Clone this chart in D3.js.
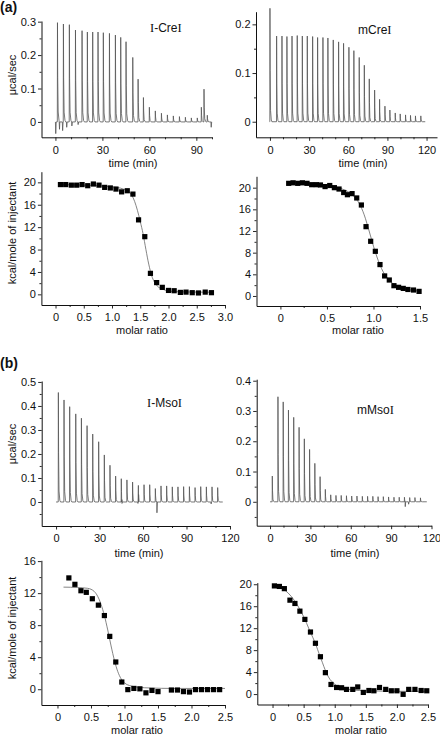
<!DOCTYPE html>
<html><head><meta charset="utf-8">
<script src="https://cdn.jsdelivr.net/npm/d3@7"></script>
<style>
body{margin:0;background:#fff}
svg{display:block}
text{font-family:"Liberation Sans",Arial,sans-serif;fill:#111}
</style>
</head><body><svg id="c" width="440" height="737"></svg>
<script>
// ---------- DATA ----------
// (a) I-CreI raw ITC trace
const creiRawTimes = [1.3,5.1,8.9,12.8,17.0,20.4,23.8,27.2,30.6,34.5,38.3,41.7,45.1,49.4,52.8,56.2,60.0,63.8,67.7,71.5,75.3,79.2,83.0,86.8,90.6,93.2,94.9,97.0];
const creiRawPeaks = [0.297,0.293,0.291,0.275,0.273,0.269,0.269,0.269,0.267,0.265,0.260,0.253,0.240,0.193,0.128,0.073,0.044,0.033,0.026,0.021,0.018,0.016,0.014,0.012,0.012,0.044,0.098,0.020];
const creiRawDipTimes = [0.2,2.6,4.6,7.2,10.5,14.5,99.5];
const creiRawDipValues = [-0.035,-0.022,-0.026,-0.016,-0.012,-0.008,-0.016];
// (a) mCreI raw ITC trace
const mcreiRawTimes = [0.0,5.1,9.2,13.0,16.9,20.9,24.8,28.6,32.7,36.5,40.6,44.4,48.5,52.6,56.4,60.5,64.3,68.4,72.3,76.1,80.2,84.0,88.1,91.9,96.0,99.8,103.9,107.7,111.5,115.6];
const mcreiRawPeaks = [0.233,0.176,0.176,0.175,0.176,0.177,0.176,0.176,0.175,0.173,0.173,0.172,0.168,0.164,0.161,0.153,0.146,0.132,0.116,0.088,0.065,0.046,0.032,0.024,0.018,0.016,0.014,0.013,0.012,0.012];
const mcreiRawDipTimes = [];
const mcreiRawDipValues = [];
// (a) I-CreI isotherm
const creiRatio = [0.087,0.18,0.28,0.375,0.47,0.57,0.67,0.77,0.87,0.97,1.07,1.17,1.27,1.37,1.47,1.58,1.68,1.79,1.89,2.0,2.1,2.21,2.31,2.42,2.53,2.65,2.76];
const creiHeat = [19.6,19.6,19.5,19.5,19.6,19.4,19.7,19.5,19.1,19.0,18.8,18.3,18.5,17.9,13.3,10.3,3.75,2.1,1.25,0.7,0.65,0.35,0.4,0.3,0.25,0.4,0.3];
const creiFitX = [0.09,0.5,1.0,1.2,1.3,1.35,1.4,1.45,1.5,1.55,1.6,1.65,1.7,1.75,1.8,1.9,2.0,2.2,2.5,2.78];
const creiFitY = [19.6,19.5,19.2,18.8,18.3,17.7,16.6,15.0,13.0,10.8,8.0,5.4,3.4,2.2,1.5,0.9,0.6,0.45,0.4,0.38];
// (a) mCreI isotherm
const mcreiRatio = [0.089,0.136,0.186,0.236,0.286,0.336,0.386,0.43,0.48,0.53,0.58,0.63,0.68,0.72,0.77,0.82,0.87,0.92,0.97,1.02,1.07,1.12,1.17,1.22,1.27,1.32,1.37,1.43,1.49];
const mcreiHeat = [20.8,20.9,20.8,20.9,20.8,20.55,20.55,20.5,20.2,20.4,20.0,19.75,19.1,18.7,18.9,18.1,16.8,12.8,10.1,8.25,5.8,3.7,2.95,1.9,1.6,1.4,1.2,1.1,0.85];
const mcreiFitX = [0.09,0.3,0.5,0.6,0.7,0.75,0.8,0.85,0.9,0.95,1.0,1.05,1.1,1.15,1.2,1.3,1.4,1.49];
const mcreiFitY = [20.9,20.8,20.5,20.1,19.5,19.0,18.2,17.0,15.0,12.2,9.2,6.6,4.6,3.3,2.4,1.5,1.1,0.9];
// (b) I-MsoI raw ITC trace
const msoiRawTimes = [1.6,5.5,9.4,13.6,17.5,21.4,25.3,29.4,33.3,37.2,41.1,45.0,48.9,52.8,56.8,60.7,64.6,68.5,72.4,76.3,80.2,84.1,88.0,92.0,95.9,99.8,103.7,107.6,111.5];
const msoiRawPeaks = [0.456,0.425,0.397,0.367,0.349,0.318,0.283,0.251,0.196,0.153,0.108,0.097,0.092,0.083,0.069,0.072,0.072,0.056,0.067,0.067,0.063,0.063,0.064,0.064,0.060,0.064,0.063,0.063,0.060];
const msoiRawDipTimes = [45.5,56.5,69.6,107.0];
const msoiRawDipValues = [-0.006,-0.006,-0.045,-0.008];
// (b) mMsoI raw ITC trace
const mmsoiRawTimes = [1.7,5.9,9.8,13.7,17.6,21.6,25.5,29.4,33.3,37.2,41.1,45.1,49.0,52.9,56.8,60.7,64.6,68.6,72.5,76.4,80.3,84.2,88.1,92.1,96.0,99.9,103.8,107.7,111.8];
const mmsoiRawPeaks = [0.085,0.347,0.330,0.303,0.279,0.246,0.208,0.173,0.127,0.083,0.041,0.023,0.021,0.021,0.020,0.019,0.019,0.018,0.018,0.018,0.017,0.017,0.016,0.015,0.015,0.015,0.014,0.014,0.013];
const mmsoiRawDipTimes = [100.5,103.0];
const mmsoiRawDipValues = [-0.016,-0.008];
// (b) I-MsoI isotherm
const msoiRatio = [0.17,0.26,0.35,0.43,0.52,0.61,0.70,0.78,0.87,0.96,1.05,1.14,1.23,1.32,1.41,1.50,1.70,1.79,1.88,1.97,2.06,2.15,2.24,2.33,2.42];
const msoiHeat = [13.9,13.1,12.3,12.1,11.3,10.5,9.2,6.6,3.4,0.9,-0.05,0.1,0.05,-0.45,-0.15,-0.3,-0.1,-0.1,-0.3,-0.35,-0.05,-0.05,-0.05,-0.05,-0.05];
const msoiFitX = [0.09,0.3,0.45,0.55,0.6,0.65,0.7,0.75,0.8,0.85,0.9,0.95,1.0,1.1,1.2,1.4,1.7,2.0,2.5];
const msoiFitY = [12.75,12.7,12.6,12.2,11.6,10.6,9.2,7.4,5.4,3.6,2.2,1.3,0.8,0.4,0.25,0.15,0.1,0.1,0.1];
// (b) mMsoI isotherm
const mmsoiRatio = [0.03,0.11,0.19,0.28,0.36,0.44,0.52,0.61,0.69,0.77,0.85,0.94,1.03,1.11,1.19,1.29,1.37,1.46,1.55,1.63,1.72,1.82,1.91,2.0,2.1,2.19,2.29,2.39,2.48];
const mmsoiHeat = [19.7,19.6,19.2,17.1,16.5,15.1,13.6,11.3,9.25,6.8,3.9,1.75,1.2,1.15,0.85,0.85,1.3,0.3,0.65,0.6,1.2,0.85,0.6,0.6,-0.05,0.85,0.85,0.65,0.6];
const mmsoiFitX = [0.02,0.1,0.2,0.3,0.4,0.5,0.6,0.7,0.75,0.8,0.85,0.9,1.0,1.1,1.2,1.4,1.7,2.0,2.48];
const mmsoiFitY = [19.7,19.5,18.9,17.8,16.2,14.1,11.5,8.9,7.3,5.8,4.3,3.1,1.8,1.2,0.9,0.65,0.55,0.5,0.5];

// tick labels
const timeTicksA1 = [0,30,60,90];
const timeTicks = [0,30,60,90,120];
const ratioTicks3 = [0,0.5,1.0,1.5,2.0,2.5,3.0];
const ratioTicks15 = [0,0.5,1.0,1.5];
const ratioTicks25 = [0,0.5,1.0,1.5,2.0,2.5];
const heatTicks20 = [0,4,8,12,16,20];
const heatTicks16 = [0,4,8,12,16];

// ---------- DRAW ----------
const svg = d3.select("#c");
const fmtRatio = d => d === 0 ? "0" : d3.format(".1f")(d);
const fmtPlain = d => String(d);

function axes(g, x, y, o) {
  const xa = g.append("g").attr("transform", `translate(0,${y.range()[0]})`)
    .call(d3.axisBottom(x).tickValues(o.xMinor).tickSize(2).tickFormat("").tickSizeOuter(0));
  xa.selectAll("text").remove();
  const xb = g.append("g").attr("transform", `translate(0,${y.range()[0]})`)
    .call(d3.axisBottom(x).tickValues(o.xTicks).tickSize(3.5).tickPadding(5).tickFormat(o.xFmt).tickSizeOuter(0));
  xb.select(".domain").remove();
  const ya = g.append("g").attr("transform", `translate(${x.range()[0]},0)`)
    .call(d3.axisLeft(y).tickValues(o.yMinor).tickSize(2).tickFormat("").tickSizeOuter(0));
  const yb = g.append("g").attr("transform", `translate(${x.range()[0]},0)`)
    .call(d3.axisLeft(y).tickValues(o.yTicks).tickSize(3.5).tickPadding(2).tickFormat(o.yFmt).tickSizeOuter(0));
  yb.select(".domain").remove();
  g.selectAll(".domain").attr("stroke", "#111").attr("stroke-width", 1);
  g.selectAll(".tick line").attr("stroke", "#111").attr("stroke-width", 0.9);
  g.selectAll(".tick text").attr("font-size", 11).attr("font-family", '"Liberation Sans",Arial,sans-serif').attr("fill", "#111");
  if (o.xLabel) g.append("text").attr("x", o.xLabel[0]).attr("y", o.xLabel[1]).attr("text-anchor", "middle").attr("font-size", 11).text(o.xLabel[2]);
  if (o.yLabel) g.append("text").attr("transform", `translate(${o.yLabel[0]},${o.yLabel[1]}) rotate(-90)`).attr("dy", "0.35em").attr("text-anchor", "middle").attr("font-size", 11).text(o.yLabel[2]);
}

function title(g, x, y, str) {
  const t = g.append("text").attr("x", x).attr("y", y).attr("font-size", 12);
  str.split(/(I)/).filter(s => s.length).forEach(s => {
    const ts = t.append("tspan").text(s);
    if (s === "I") ts.attr("font-family", '"Liberation Serif","Times New Roman",serif').attr("font-size", 12.5);
  });
}

function rawTrace(g, x, y, times, peaks, dipT, dipV, tStart, tEnd) {
  const pts = [[tStart, 0]];
  times.forEach((t, i) => {
    const p = peaks[i];
    pts.push([t - 0.1, 0], [t, p], [t + 0.15, p * 0.45], [t + 0.45, p * 0.1], [t + 1.0, p * 0.015], [t + 1.5, 0]);
  });
  dipT.forEach((t, i) => pts.push([t - 0.2, 0.0], [t, dipV[i]], [t + 0.3, 0.0]));
  pts.push([tEnd, 0]);
  pts.sort((a, b) => a[0] - b[0]);
  g.append("path").attr("d", d3.line().x(d => x(d[0])).y(d => y(d[1]))(pts))
    .attr("fill", "none").attr("stroke", "#555").attr("stroke-width", 0.8).attr("stroke-linejoin", "round");
}

function isotherm(g, x, y, rx, hy, fx, fy) {
  const fit = fx.map((v, i) => [v, fy[i]]);
  g.append("path").attr("d", d3.line().curve(d3.curveMonotoneX).x(d => x(d[0])).y(d => y(d[1]))(fit))
    .attr("fill", "none").attr("stroke", "#666").attr("stroke-width", 0.8);
  g.selectAll(".pt").data(rx.map((v, i) => [v, hy[i]])).join("rect")
    .attr("x", d => x(d[0]) - 2.6).attr("y", d => y(d[1]) - 2.6)
    .attr("width", 5.2).attr("height", 5.2).attr("fill", "#000");
}

// Panel letters
svg.append("text").attr("x", 0).attr("y", 12).attr("font-size", 14).attr("font-weight", "bold").text("(a)");
svg.append("text").attr("x", 0).attr("y", 368).attr("font-size", 14).attr("font-weight", "bold").text("(b)");

// Panel 1: I-CreI raw
{
  const g = svg.append("g");
  const x = d3.scaleLinear().domain([-8.9, 100]).range([41.5, 212]);
  const y = d3.scaleLinear().domain([-0.046, 0.302]).range([137.3, 21]);
  rawTrace(g, x, y, creiRawTimes, creiRawPeaks, creiRawDipTimes, creiRawDipValues, 0, 100);
  axes(g, x, y, {xTicks: timeTicksA1, xMinor: [10,20,40,50,70,80,100], xFmt: fmtPlain,
    yTicks: [0,0.1,0.2,0.3], yMinor: [0.05,0.15,0.25], yFmt: fmtPlain,
    xLabel: [133, 167, "time (min)"], yLabel: [12, 75, "μcal/sec"]});
  title(g, 150, 32, "I-CreI");
}
// Panel 2: mCreI raw
{
  const g = svg.append("g");
  const x = d3.scaleLinear().domain([-10.7, 128]).range([256, 437]);
  const y = d3.scaleLinear().domain([-0.032, 0.226]).range([137.3, 11.7]);
  rawTrace(g, x, y, mcreiRawTimes, mcreiRawPeaks, mcreiRawDipTimes, mcreiRawDipValues, -0.3, 119);
  axes(g, x, y, {xTicks: timeTicks, xMinor: [10,20,40,50,70,80,100,110], xFmt: fmtPlain,
    yTicks: [0,0.1,0.2], yMinor: [0.05,0.15], yFmt: fmtPlain,
    xLabel: [363, 167, "time (min)"]});
  title(g, 358, 34, "mCreI");
}
// Panel 3: I-CreI isotherm
{
  const g = svg.append("g");
  const x = d3.scaleLinear().domain([-0.25, 3.0]).range([41.4, 225]);
  const y = d3.scaleLinear().domain([-1.9, 21.9]).range([305, 171.7]);
  isotherm(g, x, y, creiRatio, creiHeat, creiFitX, creiFitY);
  axes(g, x, y, {xTicks: ratioTicks3, xMinor: [0.25,0.75,1.25,1.75,2.25,2.75], xFmt: fmtRatio,
    yTicks: heatTicks20, yMinor: [2,6,10,14,18], yFmt: fmtPlain,
    xLabel: [142, 334, "molar ratio"], yLabel: [12, 233, "kcal/mole of injectant"]});
}
// Panel 4: mCreI isotherm
{
  const g = svg.append("g");
  const x = d3.scaleLinear().domain([-0.257, 1.5]).range([256.5, 420]);
  const y = d3.scaleLinear().domain([-1.85, 22.1]).range([306, 176.3]);
  isotherm(g, x, y, mcreiRatio, mcreiHeat, mcreiFitX, mcreiFitY);
  axes(g, x, y, {xTicks: ratioTicks15, xMinor: [0.25,0.75,1.25], xFmt: fmtRatio,
    yTicks: heatTicks20, yMinor: [2,6,10,14,18], yFmt: fmtPlain,
    xLabel: [358, 334, "molar ratio"]});
}
// Panel 5: I-MsoI raw
{
  const g = svg.append("g");
  const x = d3.scaleLinear().domain([-9.9, 120]).range([41.7, 230]);
  const y = d3.scaleLinear().domain([-0.1, 0.504]).range([526, 381]);
  rawTrace(g, x, y, msoiRawTimes, msoiRawPeaks, msoiRawDipTimes, msoiRawDipValues, 0, 115);
  axes(g, x, y, {xTicks: timeTicks, xMinor: [10,20,40,50,70,80,100,110], xFmt: fmtPlain,
    yTicks: [0,0.1,0.2,0.3,0.4,0.5], yMinor: [-0.05,0.05,0.15,0.25,0.35,0.45], yFmt: fmtPlain,
    xLabel: [139, 557, "time (min)"], yLabel: [12, 444, "μcal/sec"]});
  title(g, 147, 407, "I-MsoI");
}
// Panel 6: mMsoI raw
{
  const g = svg.append("g");
  const x = d3.scaleLinear().domain([-9.9, 120]).range([256.7, 431.5]);
  const y = d3.scaleLinear().domain([-0.079, 0.405]).range([525.7, 379.2]);
  rawTrace(g, x, y, mmsoiRawTimes, mmsoiRawPeaks, mmsoiRawDipTimes, mmsoiRawDipValues, 0, 116.5);
  axes(g, x, y, {xTicks: timeTicks, xMinor: [10,20,40,50,70,80,100,110], xFmt: fmtPlain,
    yTicks: [0,0.1,0.2,0.3,0.4], yMinor: [-0.05,0.05,0.15,0.25,0.35], yFmt: fmtPlain,
    xLabel: [355, 557, "time (min)"]});
  title(g, 357, 414, "mMsoI");
}
// Panel 7: I-MsoI isotherm
{
  const g = svg.append("g");
  const x = d3.scaleLinear().domain([-0.24, 2.5]).range([41.4, 225]);
  const y = d3.scaleLinear().domain([-1.97, 16.1]).range([705, 560.3]);
  isotherm(g, x, y, msoiRatio, msoiHeat, msoiFitX, msoiFitY);
  axes(g, x, y, {xTicks: ratioTicks25, xMinor: [0.25,0.75,1.25,1.75,2.25], xFmt: fmtRatio,
    yTicks: heatTicks16, yMinor: [2,6,10,14], yFmt: fmtPlain,
    xLabel: [137, 734, "molar ratio"], yLabel: [12, 628, "kcal/mole of injectant"]});
}
// Panel 8: mMsoI isotherm
{
  const g = svg.append("g");
  const x = d3.scaleLinear().domain([-0.245, 2.5]).range([257.3, 428]);
  const y = d3.scaleLinear().domain([-1.9, 20.3]).range([704.5, 582.6]);
  isotherm(g, x, y, mmsoiRatio, mmsoiHeat, mmsoiFitX, mmsoiFitY);
  axes(g, x, y, {xTicks: ratioTicks25, xMinor: [0.25,0.75,1.25,1.75,2.25], xFmt: fmtRatio,
    yTicks: heatTicks20, yMinor: [2,6,10,14,18], yFmt: fmtPlain,
    xLabel: [361, 734, "molar ratio"]});
}
</script></body></html>
